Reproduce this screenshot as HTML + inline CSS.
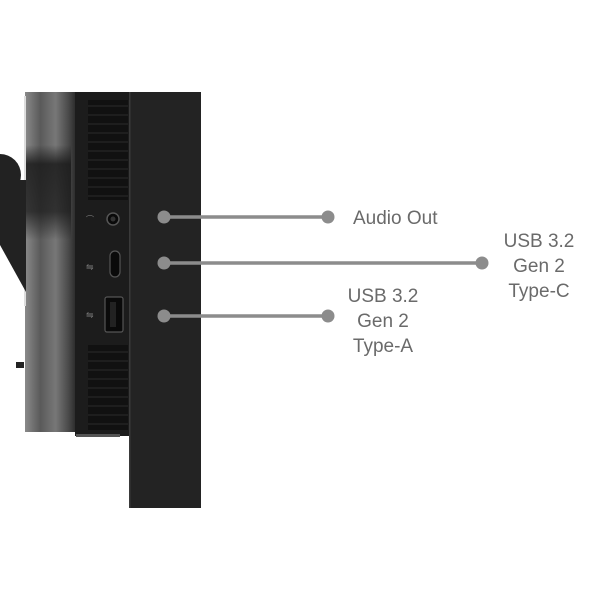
<!DOCTYPE html>
<html><head><meta charset="utf-8"><style>
html,body{margin:0;padding:0;background:#fff;width:600px;height:600px;overflow:hidden}
text{font-family:"Liberation Sans",sans-serif;fill:#6a6a6a;font-size:19px}
</style></head><body>
<svg width="600" height="600" viewBox="0 0 600 600" xmlns="http://www.w3.org/2000/svg">
<defs>
<linearGradient id="silver" x1="0" x2="1" y1="0" y2="0">
<stop offset="0" stop-color="#8a8a8a"/><stop offset="0.3" stop-color="#5a5a5a"/>
<stop offset="0.6" stop-color="#777"/><stop offset="0.85" stop-color="#4a4a4a"/><stop offset="1" stop-color="#2a2a2a"/>
</linearGradient>
<linearGradient id="shade" x1="0" x2="0" y1="0" y2="1">
<stop offset="0" stop-color="#1a1a1a" stop-opacity="0"/><stop offset="0.2" stop-color="#1a1a1a" stop-opacity="0.85"/>
<stop offset="0.7" stop-color="#1a1a1a" stop-opacity="0.75"/><stop offset="1" stop-color="#1a1a1a" stop-opacity="0"/>
</linearGradient>
</defs>
<!-- silver body -->
<rect x="25" y="92" width="51" height="340" fill="url(#silver)"/>
<rect x="24" y="96" width="2" height="210" fill="#ddd"/>
<rect x="26" y="145" width="45" height="95" fill="url(#shade)"/>
<!-- arm -->
<circle cx="0" cy="175" r="21" fill="#222"/>
<path d="M0 180 L26 180 L26 292 L0 245 Z" fill="#222"/>
<rect x="16" y="362" width="8" height="6" fill="#222"/>
<!-- dark port panel -->
<rect x="75" y="92" width="56" height="344" fill="#1c1c1c"/>
<g fill="#111">
<rect x="88" y="100" width="40" height="100"/>
<rect x="88" y="345" width="40" height="85"/>
</g>
<g stroke="#2a2a2a" stroke-width="1">
<path d="M88 106H128M88 115H128M88 124H128M88 133H128M88 142H128M88 151H128M88 160H128M88 169H128M88 178H128M88 187H128M88 196H128"/>
<path d="M88 352H128M88 361H128M88 370H128M88 379H128M88 388H128M88 397H128M88 406H128M88 415H128M88 424H128"/>
</g>
<!-- ports -->
<circle cx="113" cy="219" r="6" fill="#0a0a0a" stroke="#555" stroke-width="1.5"/>
<circle cx="113" cy="219" r="2.5" fill="#333"/>
<rect x="110" y="251" width="10" height="26" rx="5" fill="#0a0a0a" stroke="#555" stroke-width="1.2"/>
<rect x="105" y="297" width="18" height="35" rx="2" fill="#0a0a0a" stroke="#555" stroke-width="1.2"/>
<rect x="110" y="302" width="6" height="25" fill="#222"/>
<text x="86" y="222" style="font-size:8px;fill:#777">⌒</text>
<text x="86" y="270" style="font-size:9px;fill:#777">⇋</text>
<text x="86" y="318" style="font-size:9px;fill:#777">⇋</text>
<rect x="76" y="434" width="44" height="3" fill="#555"/>
<!-- bezel -->
<rect x="129" y="92" width="72" height="416" fill="#232323"/>
<rect x="129" y="92" width="1.5" height="416" fill="#3a3a3a"/>
<!-- leaders -->
<g stroke="#8c8c8c" stroke-width="3.5">
<line x1="163" y1="217" x2="328" y2="217"/>
<line x1="163" y1="263" x2="482" y2="263"/>
<line x1="163" y1="316" x2="328" y2="316"/>
</g>
<g fill="#8c8c8c">
<circle cx="164" cy="217" r="6.5"/><circle cx="328" cy="217" r="6.5"/>
<circle cx="164" cy="263" r="6.5"/><circle cx="482" cy="263" r="6.5"/>
<circle cx="164" cy="316" r="6.5"/><circle cx="328" cy="316" r="6.5"/>
</g>
<text x="353" y="224">Audio Out</text>
<g text-anchor="middle">
<text x="539" y="247">USB 3.2</text>
<text x="539" y="272">Gen 2</text>
<text x="539" y="297">Type-C</text>
<text x="383" y="302">USB 3.2</text>
<text x="383" y="327">Gen 2</text>
<text x="383" y="352">Type-A</text>
</g>
</svg>
</body></html>
